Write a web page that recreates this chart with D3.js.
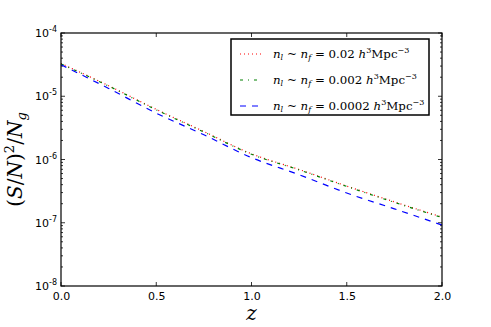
<!DOCTYPE html>
<html>
<head>
<meta charset="utf-8">
<script src="https://cdn.jsdelivr.net/npm/d3@7"></script>
<style>
  body { margin: 0; background: #fff; }
  .tick text { font-family: "DejaVu Sans", sans-serif; font-size: 11px; fill: #000; }
</style>
</head>
<body>
<div id="chart"></div>
<script>
// data
var zValues = [0, 0.25, 0.5, 0.75, 1.0, 1.25, 1.5, 1.75, 2.0];
var snHigh = [3.3e-5, 1.47e-5, 6.2e-6, 2.77e-6, 1.23e-6, 6.95e-7, 3.8e-7, 2.14e-7, 1.23e-7];
var snMid = [3.25e-5, 1.45e-5, 6.1e-6, 2.72e-6, 1.21e-6, 6.85e-7, 3.75e-7, 2.1e-7, 1.21e-7];
var snLow = [3.15e-5, 1.33e-5, 5.4e-6, 2.46e-6, 1.07e-6, 5.75e-7, 2.95e-7, 1.66e-7, 9.2e-8];
var seriesLabels = ["0.02", "0.002", "0.0002"];
var xTicks = [0, 0.5, 1.0, 1.5, 2.0];
var yExponents = [-4, -5, -6, -7, -8];

var svgWidth = 491;
var svgHeight = 327;
var margin = { top: 33, right: 49, bottom: 41, left: 61 };
var width = svgWidth - margin.left - margin.right;
var height = svgHeight - margin.top - margin.bottom;

var svg = d3.select("#chart")
  .append("svg")
  .attr("width", svgWidth)
  .attr("height", svgHeight);

var chartGroup = svg.append("g")
  .attr("transform", `translate(${margin.left}, ${margin.top})`);

var x = d3.scaleLinear().domain([0, 2]).range([0, width]);
var y = d3.scaleLog().domain([1e-8, 1e-4]).range([height, 0]);

// minor log ticks
var minorTicks = [];
for (var e = -8; e < -4; e++) {
  for (var m = 2; m < 10; m++) minorTicks.push(m * Math.pow(10, e));
}

// tick marks (inward, all four sides)
function tickLines(vals, len, side) {
  chartGroup.append("g").selectAll("line").data(vals).enter().append("line")
    .attr("x1", d => side === "left" ? 0 : side === "right" ? width : x(d))
    .attr("x2", d => side === "left" ? len : side === "right" ? width - len : x(d))
    .attr("y1", d => side === "bottom" ? height : side === "top" ? 0 : y(d))
    .attr("y2", d => side === "bottom" ? height - len : side === "top" ? len : y(d))
    .attr("stroke", "#000")
    .attr("stroke-width", 0.8);
}
tickLines(xTicks, 4, "bottom");
tickLines(xTicks, 4, "top");
tickLines(yExponents.map(e => Math.pow(10, e)), 4, "left");
tickLines(yExponents.map(e => Math.pow(10, e)), 4, "right");
tickLines(minorTicks, 2, "left");
tickLines(minorTicks, 2, "right");

// x tick labels
var bottomAxis = d3.axisBottom(x).tickValues(xTicks).tickFormat(d3.format(".1f")).tickSize(0).tickPadding(6);
var xAxisG = chartGroup.append("g")
  .attr("transform", `translate(0, ${height})`)
  .call(bottomAxis);
xAxisG.select(".domain").remove();

// y tick labels
var yLab = chartGroup.append("g").selectAll("text").data(yExponents).enter().append("text")
  .attr("x", -4)
  .attr("y", d => y(Math.pow(10, d)) + 4)
  .attr("text-anchor", "end")
  .attr("font-family", "DejaVu Sans, sans-serif")
  .attr("font-size", 11);
yLab.append("tspan").text("10");
yLab.append("tspan").attr("dy", -5).attr("font-size", 8).text(d => d);

// curves
var line = d3.line()
  .x(d => x(d[0]))
  .y(d => y(d[1]))
  .curve(d3.curveMonotoneX);

var series = [
  { vals: snHigh, color: "#ff0000", dash: "1,3" },
  { vals: snMid, color: "#008000", dash: "3,5,1,5" },
  { vals: snLow, color: "#0000ff", dash: "6,6" }
];

series.forEach(function(s) {
  chartGroup.append("path")
    .datum(zValues.map((z, i) => [z, s.vals[i]]))
    .attr("d", line)
    .attr("fill", "none")
    .attr("stroke", s.color)
    .attr("stroke-width", 1.2)
    .attr("stroke-dasharray", s.dash);
});

// frame
chartGroup.append("rect")
  .attr("width", width)
  .attr("height", height)
  .attr("fill", "none")
  .attr("stroke", "#000")
  .attr("stroke-width", 1.2);

// legend
var legend = svg.append("g").attr("transform", "translate(231, 39)");
legend.append("rect")
  .attr("width", 198)
  .attr("height", 76)
  .attr("fill", "#fff")
  .attr("stroke", "#000")
  .attr("stroke-width", 1.5);

series.forEach(function(s, i) {
  var row = legend.append("g").attr("transform", `translate(0, ${15 + i * 26})`);
  row.append("line")
    .attr("x1", 9).attr("x2", 30)
    .attr("stroke", s.color)
    .attr("stroke-width", 1.2)
    .attr("stroke-dasharray", s.dash);
  var t = row.append("text")
    .attr("x", 42)
    .attr("y", 4)
    .attr("font-family", "DejaVu Serif, serif")
    .attr("font-size", 11.8);
  t.append("tspan").attr("font-style", "italic").text("n");
  t.append("tspan").attr("font-style", "italic").attr("font-size", 8).attr("dy", 2).text("l");
  t.append("tspan").attr("dy", -2).text(" ~ ");
  t.append("tspan").attr("font-style", "italic").text("n");
  t.append("tspan").attr("font-style", "italic").attr("font-size", 8).attr("dy", 2).text("f");
  t.append("tspan").attr("dy", -2).text(" = " + seriesLabels[i] + " ");
  t.append("tspan").attr("font-style", "italic").text("h");
  t.append("tspan").attr("font-size", 8).attr("dy", -5).text("3");
  t.append("tspan").attr("dy", 5).text("Mpc");
  t.append("tspan").attr("font-size", 8).attr("dy", -5).text("−3");
});

// axis labels
var yTitle = svg.append("text")
  .attr("transform", `translate(22, ${margin.top + height / 2}) rotate(-90)`)
  .attr("text-anchor", "middle")
  .attr("font-family", "DejaVu Serif, serif")
  .attr("font-size", 20);
yTitle.append("tspan").text("(");
yTitle.append("tspan").attr("font-style", "italic").text("S");
yTitle.append("tspan").text("/");
yTitle.append("tspan").attr("font-style", "italic").text("N");
yTitle.append("tspan").text(")");
yTitle.append("tspan").attr("font-size", 13).attr("dy", -8).text("2");
yTitle.append("tspan").attr("dy", 8).text("/");
yTitle.append("tspan").attr("font-style", "italic").text("N");
yTitle.append("tspan").attr("font-style", "italic").attr("font-size", 13).attr("dy", 4).text("g");

svg.append("text")
  .attr("x", margin.left + width / 2)
  .attr("y", 320)
  .attr("text-anchor", "middle")
  .attr("font-family", "DejaVu Serif, serif")
  .attr("font-style", "italic")
  .attr("font-size", 20)
  .text("z");
</script>
</body>
</html>
